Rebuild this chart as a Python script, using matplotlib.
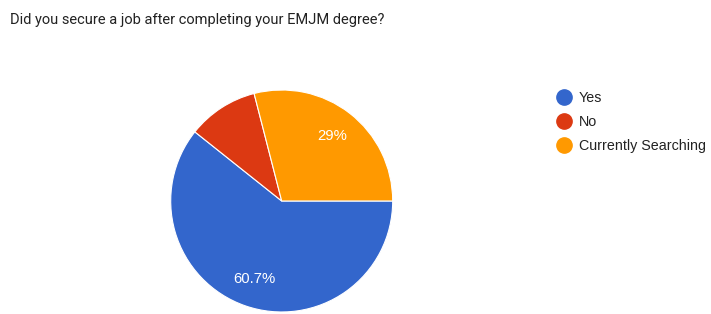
import matplotlib.pyplot as plt
from matplotlib import font_manager
from matplotlib.lines import Line2D

plt.rcParams['font.family'] = ['Liberation Sans', 'DejaVu Sans']

# survey answers (share of respondents, %)
labels = ['Yes', 'No', 'Currently Searching']
shares = [60.7, 10.3, 29.0]
colors = ['#3366cc', '#dc3912', '#ff9900']

fig = plt.figure(figsize=(7.11, 3.14), dpi=100)

names = {f.name for f in font_manager.fontManager.ttflist}
if 'Liberation Sans Narrow' in names:
    title_font, title_size = 'Liberation Sans Narrow', 13
else:
    title_font, title_size = 'Roboto', 10.5
fig.text(0.014, 0.935, 'Did you secure a job after completing your EMJM degree?',
         fontsize=title_size, family=[title_font, 'DejaVu Sans'],
         color='#222222', va='center', ha='left')

ax = fig.add_axes([0.2401, 0.0064, 0.3122, 0.707])


def pct(p):
    # small slices get no label, like the original
    return f'{p:.3g}%' if p > 15 else ''


wedges, _, autotexts = ax.pie(shares, colors=colors, startangle=0, counterclock=False,
                              autopct=pct, pctdistance=0.74,
                              wedgeprops=dict(edgecolor='white', linewidth=0.8),
                              textprops=dict(color='white', fontsize=10.7))
ax.set_xlim(-1, 1)
ax.set_ylim(-1, 1)
ax.set_aspect('equal')

handles = [Line2D([], [], marker='o', linestyle='none', markersize=11,
                  markerfacecolor=c, markeredgecolor=c) for c in colors]
fig.legend(handles, labels, loc='upper left', bbox_to_anchor=(0.7838, 0.709),
           frameon=False, fontsize=10.3, borderpad=0, borderaxespad=0,
           handlelength=1.0, handletextpad=0.52, labelspacing=0.7,
           labelcolor='#222222')

fig.savefig('out.png', dpi=100)
